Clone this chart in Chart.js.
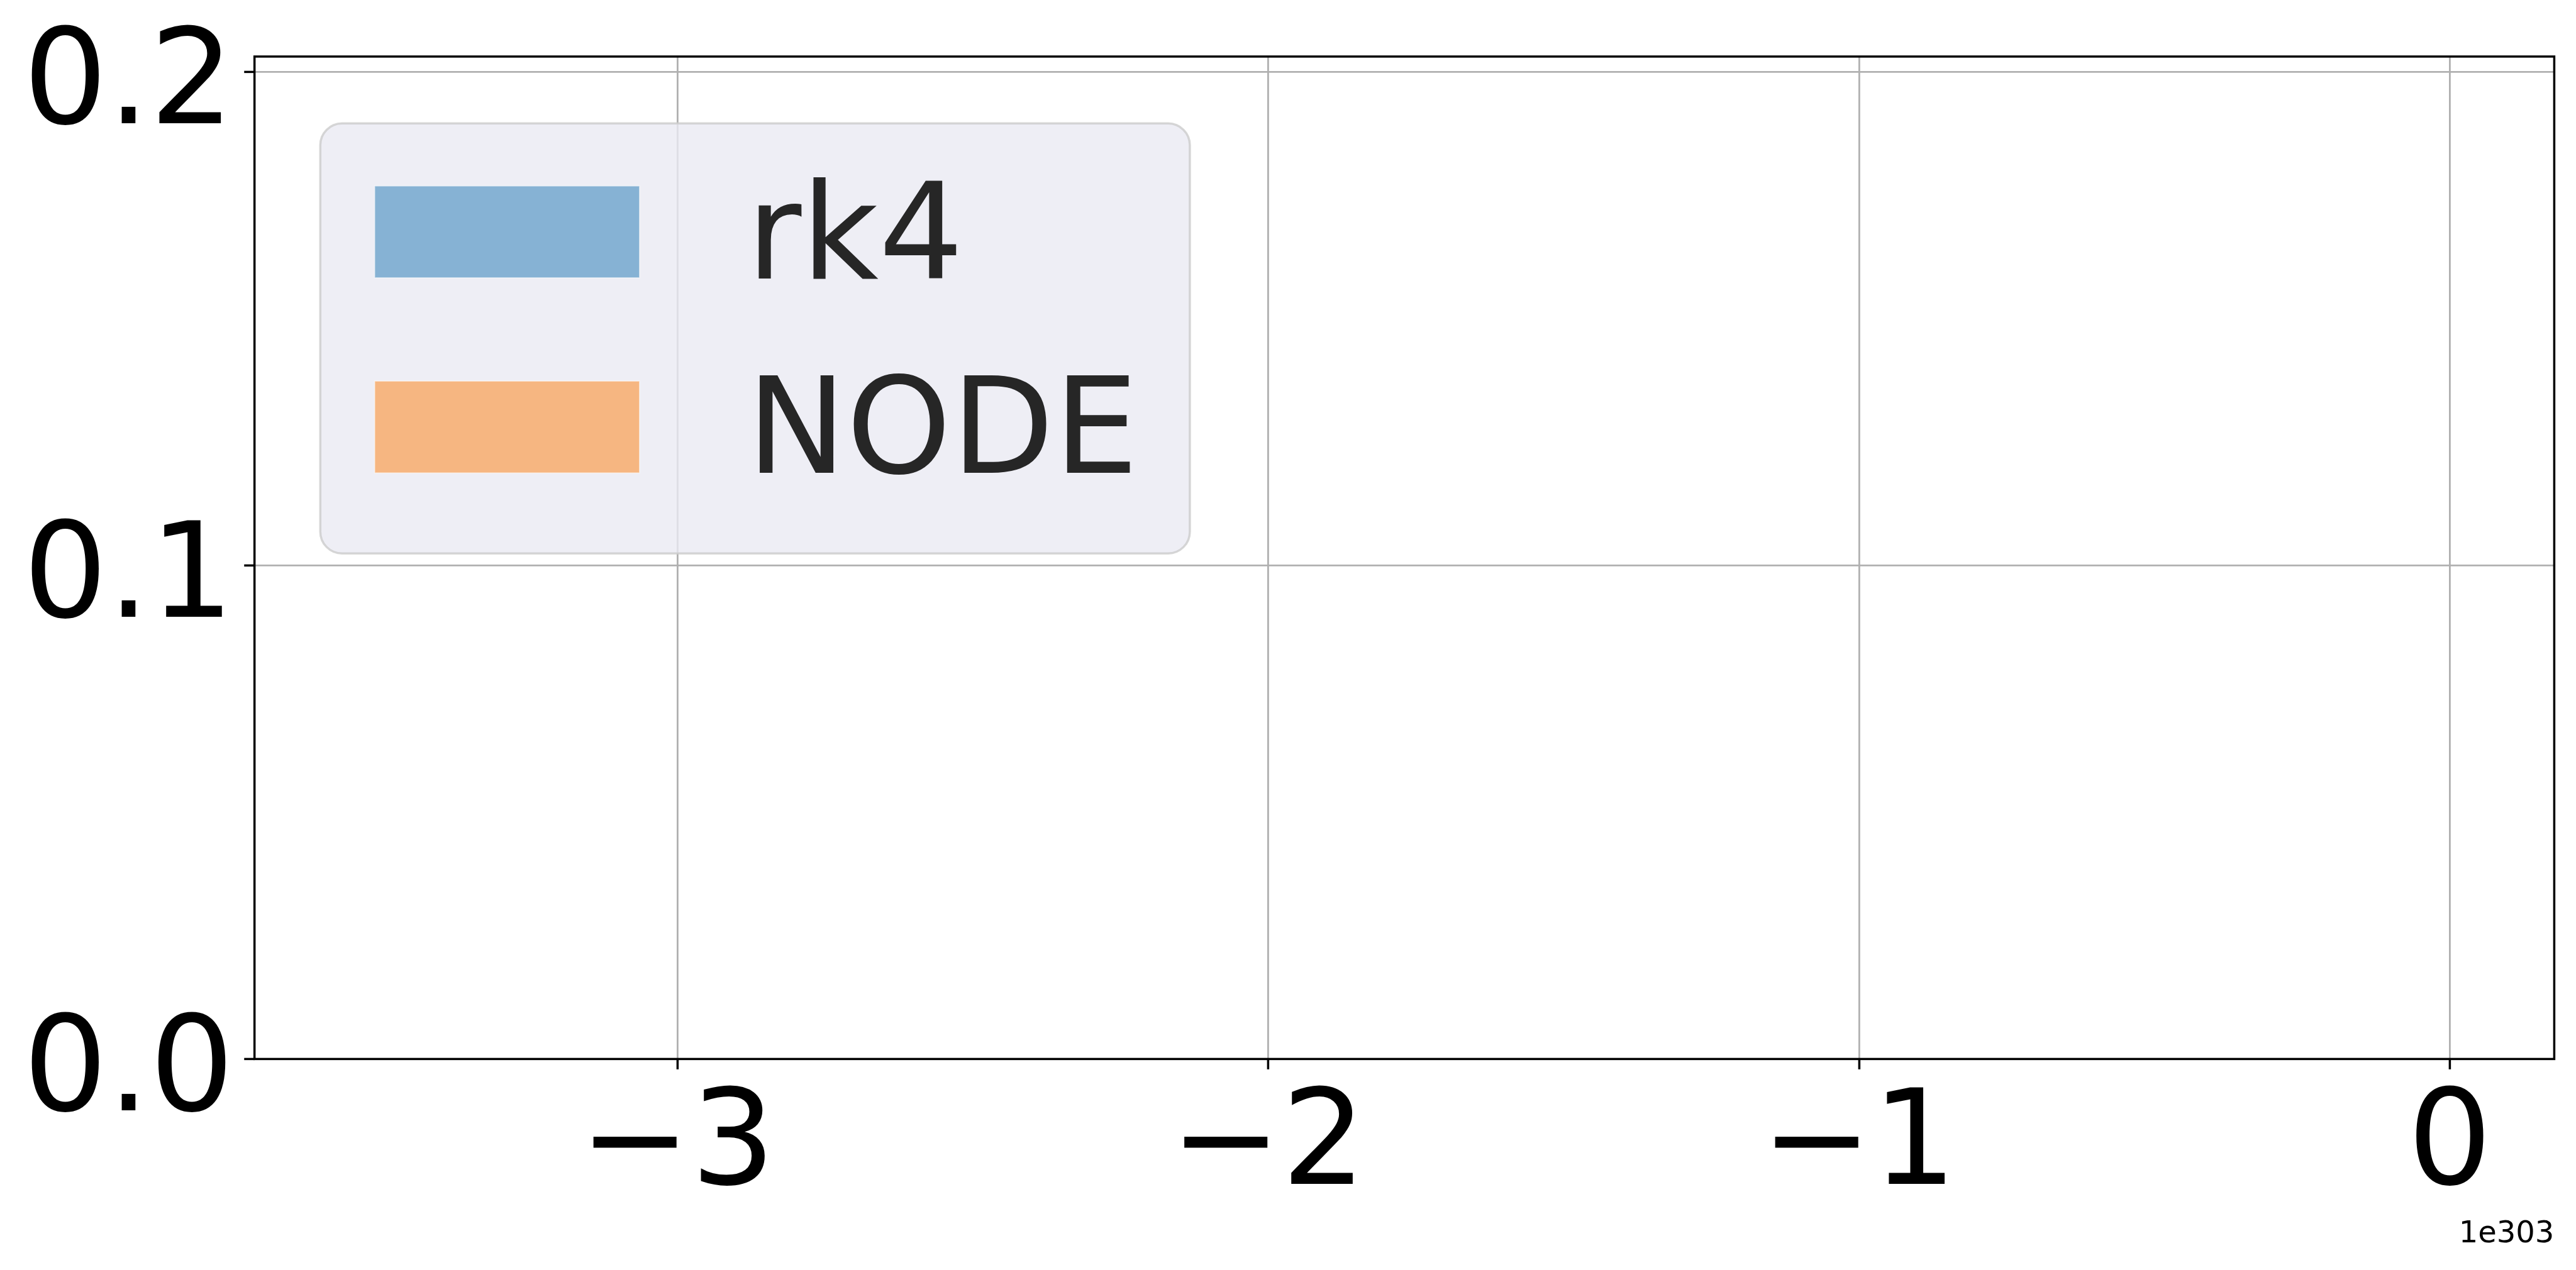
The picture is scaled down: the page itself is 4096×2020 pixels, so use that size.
<!DOCTYPE html>
<html>
<head>
<meta charset="utf-8">
<script src="https://cdn.jsdelivr.net/npm/chart.js@4/dist/chart.umd.min.js"></script>
<style>
html,body{margin:0;padding:0;background:#ffffff;overflow:hidden}
canvas{display:block}
</style>
</head>
<body>
<canvas id="c" width="4096" height="2020"></canvas>
<script>
// ---- data (x in units of 1e303) ----
const seriesNames = ['rk4', 'NODE'];
const binCenters = [-3.3620, -3.0081, -2.6542, -2.3003, -1.9464, -1.5925, -1.2386, -0.8847, -0.5308, -0.1769];
const rk4Density = [0, 0, 0, 0, 0, 0, 0, 0, 0, 0];
const nodeDensity = [0, 0, 0, 0, 0, 0, 0, 0, 0, 0];
const xTicks = [-3, -2, -1, 0];
const xTickLabels = ['\u22123', '\u22122', '\u22121', '0'];
const yTicks = [0, 0.1, 0.2];
const yTickLabels = ['0.0', '0.1', '0.2'];
const xLimits = [-3.7158, 0.1767];
const yLimits = [0, 0.20308];
const xOffsetLabel = '1e303';

const S = 4096 / 4737;

Chart.defaults.font.family = '"DejaVu Sans", sans-serif';
Chart.defaults.color = '#000000';

function toPoints(vals) {
  return binCenters.map((x, i) => ({ x: x, y: vals[i] }));
}

const decorPlugin = {
  id: 'mplDecor',
  afterDatasetsDraw(chart) {
    const ctx = chart.ctx, a = chart.chartArea;
    ctx.save();
    // axes frame (spines)
    ctx.strokeStyle = '#000000';
    ctx.lineWidth = 3.5;
    ctx.strokeRect(a.left, a.top, a.right - a.left, a.bottom - a.top);

    // legend box
    const bx = 589 * S, by = 227 * S, bw = (2188 - 589) * S, bh = (1018 - 227) * S;
    ctx.beginPath();
    ctx.roundRect(bx, by, bw, bh, 40 * S);
    ctx.fillStyle = 'rgba(234,234,242,0.8)';
    ctx.fill();
    ctx.lineWidth = 4 * S;
    ctx.strokeStyle = 'rgba(204,204,204,0.8)';
    ctx.stroke();

    const patchX = 689 * S, patchW = (1176 - 689) * S, patchH = (511 - 342) * S;
    const patchY = [342 * S, 701 * S];
    const baseY = [512 * S, 870 * S];
    const textX = 1373 * S;
    ctx.font = Math.round(245 * S) + 'px "DejaVu Sans"';
    ctx.textBaseline = 'alphabetic';
    ctx.textAlign = 'left';
    chart.data.datasets.forEach((ds, i) => {
      ctx.fillStyle = ds.backgroundColor;
      ctx.fillRect(patchX, patchY[i], patchW, patchH);
      ctx.lineWidth = 2 * S;
      ctx.strokeStyle = 'rgba(255,255,255,0.5)';
      ctx.strokeRect(patchX, patchY[i], patchW, patchH);
      ctx.fillStyle = '#262626';
      ctx.fillText(ds.label, textX, baseY[i]);
    });

    // offset text
    ctx.font = Math.round(56 * S) + 'px "DejaVu Sans"';
    ctx.fillStyle = '#000000';
    ctx.textAlign = 'right';
    ctx.fillText(xOffsetLabel, a.right, 2285 * S);
    ctx.restore();
  }
};

new Chart(document.getElementById('c'), {
  type: 'bar',
  data: {
    datasets: [
      { label: seriesNames[0], data: toPoints(rk4Density), backgroundColor: 'rgba(31,119,180,0.5)', borderWidth: 0 },
      { label: seriesNames[1], data: toPoints(nodeDensity), backgroundColor: 'rgba(255,127,14,0.5)', borderWidth: 0 }
    ]
  },
  options: {
    responsive: false,
    devicePixelRatio: 1,
    animation: false,
    grouped: false,
    barPercentage: 1,
    categoryPercentage: 1,
    layout: { padding: { left: 0, top: 104 * S, right: 4096 - 4697 * S, bottom: 0 } },
    plugins: { legend: { display: false }, tooltip: { enabled: false } },
    scales: {
      x: {
        type: 'linear',
        offset: false,
        min: xLimits[0],
        max: xLimits[1],
        afterBuildTicks(scale) { scale.ticks = xTicks.map(v => ({ value: v })); },
        afterFit(scale) { scale.height = 2020 - 1948 * S; },
        ticks: {
          autoSkip: false,
          maxRotation: 0,
          minRotation: 0,
          padding: 43,
          color: '#000000',
          font: { size: 211, lineHeight: 0.8 },
          callback(v) { const i = xTicks.indexOf(v); return i >= 0 ? xTickLabels[i] : ''; }
        },
        grid: {
          offset: false,
          color: '#b0b0b0',
          lineWidth: 2.8,
          drawTicks: true,
          tickLength: 19 * S,
          tickColor: '#000000',
          tickWidth: 3.5
        },
        border: { display: false }
      },
      y: {
        type: 'linear',
        min: yLimits[0],
        max: yLimits[1],
        afterBuildTicks(scale) { scale.ticks = yTicks.map(v => ({ value: v })); },
        afterFit(scale) { scale.width = 468 * S; },
        ticks: {
          autoSkip: false,
          padding: 16,
          labelOffset: 27,
          color: '#000000',
          font: { size: 211, lineHeight: 0.5 },
          callback(v) { const i = yTicks.indexOf(v); return i >= 0 ? yTickLabels[i] : ''; }
        },
        grid: {
          color: '#b0b0b0',
          lineWidth: 2.8,
          drawTicks: true,
          tickLength: 19 * S,
          tickColor: '#000000',
          tickWidth: 3.5
        },
        border: { display: false }
      }
    }
  },
  plugins: [decorPlugin]
});
</script>
</body>
</html>
